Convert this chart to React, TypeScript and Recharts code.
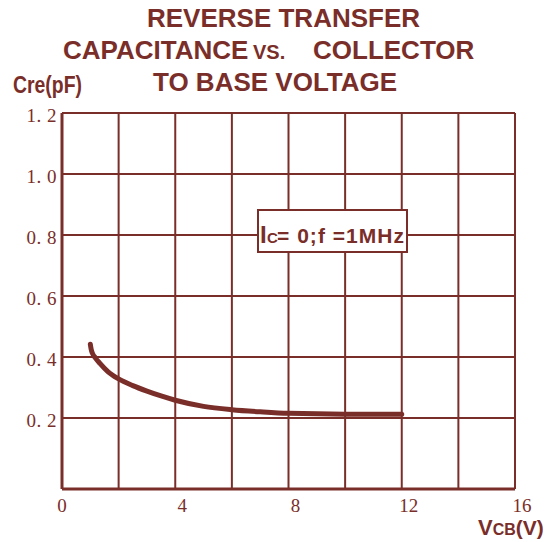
import React from 'react';
import { LineChart, Line, XAxis, YAxis, CartesianGrid } from 'recharts';

const vcb = [1, 1.03, 1.08, 1.17, 1.34, 1.62, 2, 2.5, 3, 3.5, 4, 5, 6, 7, 8, 10, 12];
const cre = [0.442, 0.425, 0.411, 0.398, 0.379, 0.352, 0.328, 0.306, 0.288, 0.272, 0.258, 0.238, 0.227, 0.22, 0.215, 0.2125, 0.2125];
const xTicks = [0, 2, 4, 6, 8, 10, 12, 14, 16];
const xLabelTicks = [0, 4, 8, 12, 16];
const yTicks = [0.2, 0.4, 0.6, 0.8, 1.0, 1.2];

const data = vcb.map((v, i) => ({ vcb: v, cre: cre[i] }));

const C = '#7a2e29';
const SANS = '"Liberation Sans", Arial, sans-serif';
const SERIF = '"Liberation Serif", "Times New Roman", serif';

const XTick = (props: any) => {
  const { x, y, payload } = props;
  const v = payload.value;
  if (!xLabelTicks.includes(v)) return <g />;
  return (
    <text x={x + (v === 0 ? 0 : 7)} y={y + 23} textAnchor="middle" fill={C} fontFamily={SERIF} fontSize={19}>
      {String(v)}
    </text>
  );
};

const YTick = (props: any) => {
  const { x, y, payload } = props;
  const s = Number(payload.value).toFixed(1).replace('.', '. ');
  return (
    <text x={x - 5} y={y + 9} textAnchor="end" fill={C} fontFamily={SERIF} fontSize={19} letterSpacing={0.5}>
      {s}
    </text>
  );
};

export default function App() {
  return (
    <div style={{ position: 'absolute', left: 0, top: 0, width: 548, height: 542, background: '#fff' }}>
      <LineChart width={548} height={542} data={data} margin={{ top: 113, right: 33, bottom: 0, left: 0 }}>
        <CartesianGrid xAxisId="b" yAxisId="l" stroke={C} strokeWidth={2} />
        <XAxis
          xAxisId="b"
          dataKey="vcb"
          type="number"
          domain={[0, 16]}
          ticks={xTicks}
          interval={0}
          height={53}
          tickLine={false}
          tickSize={0}
          tickMargin={0}
          axisLine={{ stroke: C, strokeWidth: 3 }}
          tick={<XTick />}
        />
        <XAxis
          xAxisId="t"
          orientation="top"
          dataKey="vcb"
          type="number"
          domain={[0, 16]}
          ticks={xTicks}
          height={0}
          tick={false}
          tickLine={false}
          axisLine={{ stroke: C, strokeWidth: 3 }}
        />
        <YAxis
          yAxisId="l"
          type="number"
          domain={[-0.033, 1.2]}
          ticks={yTicks}
          interval={0}
          width={62}
          allowDataOverflow
          tickLine={false}
          tickSize={0}
          tickMargin={0}
          axisLine={{ stroke: C, strokeWidth: 3 }}
          tick={<YTick />}
        />
        <YAxis
          yAxisId="r"
          orientation="right"
          type="number"
          domain={[-0.033, 1.2]}
          ticks={yTicks}
          width={0}
          tick={false}
          tickLine={false}
          axisLine={{ stroke: C, strokeWidth: 3 }}
        />
        <Line
          xAxisId="b"
          yAxisId="l"
          type="monotone"
          dataKey="cre"
          stroke={C}
          strokeWidth={5}
          strokeLinecap="round"
          dot={false}
          isAnimationActive={false}
        />
      </LineChart>
      <svg width={548} height={542} style={{ position: 'absolute', left: 0, top: 0, pointerEvents: 'none' }}>
        <g fill={C} fontFamily={SANS} fontWeight="bold">
          <text x={147} y={27} fontSize={26}>REVERSE TRANSFER</text>
          <text y={59} fontSize={26}>
            <tspan x={63}>CAPACITANCE</tspan>
            <tspan x={253} fontSize={20}>VS.</tspan>
            <tspan x={313}>COLLECTOR</tspan>
          </text>
          <text x={153} y={91} fontSize={26}>TO BASE VOLTAGE</text>
          <text x={13} y={93} fontSize={23} textLength={69} lengthAdjust="spacingAndGlyphs">Cre(pF)</text>
          <text y={535}>
            <tspan x={478} fontSize={22}>V</tspan>
            <tspan fontSize={16}>CB</tspan>
            <tspan fontSize={21}>(V)</tspan>
          </text>
        </g>
        <rect x={258} y={210} width={149} height={42} fill="#fff" stroke={C} strokeWidth={2} />
        <g fill={C} fontFamily={SANS} fontWeight="bold">
          <text x={260} y={243} fontSize={24}>I</text>
          <text x={267} y={243} fontSize={15}>C</text>
          <text x={277} y={243} fontSize={21} textLength={127} lengthAdjust="spacing">= 0;f =1MHz</text>
        </g>
      </svg>
    </div>
  );
}
